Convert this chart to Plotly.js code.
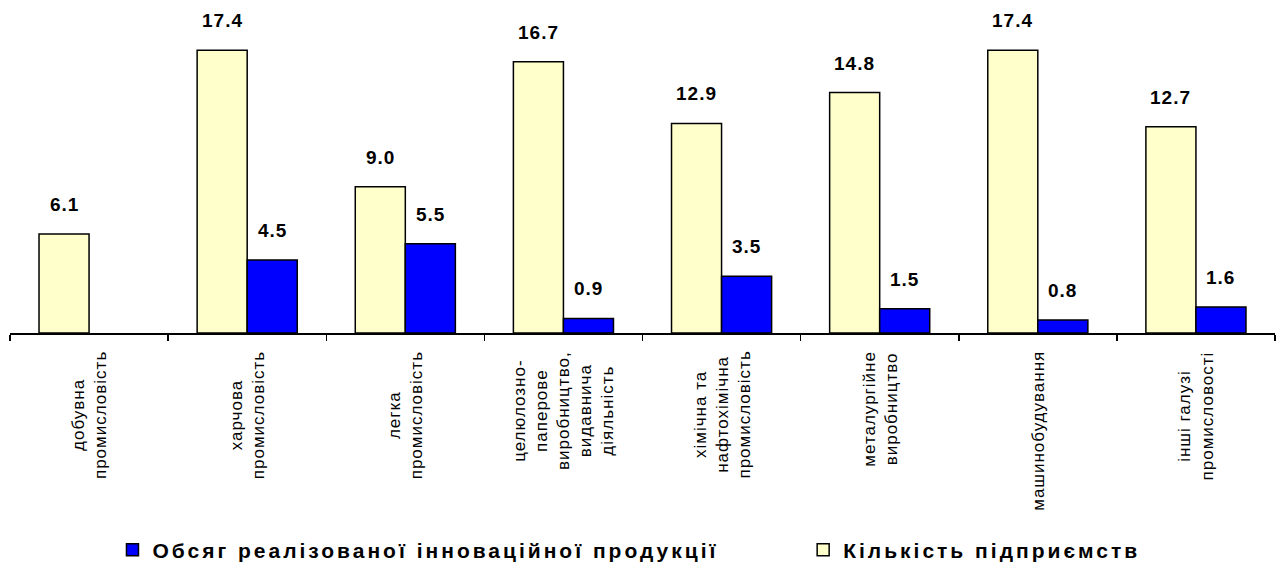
<!DOCTYPE html>
<html>
<head>
<meta charset="utf-8">
<script src="https://cdn.plot.ly/plotly-3.0.1.min.js"></script>
<style>
  html, body { margin: 0; padding: 0; background: #fff; }
  #chart { width: 1276px; height: 567px; }
  .annotation-text { letter-spacing: 1px; }
</style>
</head>
<body>
<div id="chart"></div>
<script>
// ---- data ----
const categories = [
  "добувна<br>промисловість",
  "харчова<br>промисловість",
  "легка<br>промисловість",
  "целюлозно-<br>паперове<br>виробництво,<br>видавнича<br>діяльність",
  "хімічна та<br>нафтохімічна<br>промисловість",
  "металургійне<br>виробництво",
  "машинобудування",
  "інші галузі<br>промисловості"
];
const enterprisesName = "Кількість підприємств";
const enterprises = [6.1, 17.4, 9.0, 16.7, 12.9, 14.8, 17.4, 12.7];
const salesName = "Обсяг реалізованої інноваційної продукції";
const sales = [null, 4.5, 5.5, 0.9, 3.5, 1.5, 0.8, 1.6];

// ---- style ----
const FONT = "Liberation Sans, Arial, sans-serif";
const yellow = "#FFFFCC";
const blue = "#0000FF";
const spaced = (s) => '<span style="letter-spacing:3px">' + s + '</span>';

const traces = [
  {
    type: "bar", name: spaced(enterprisesName), x: categories, y: enterprises,
    marker: { color: yellow, line: { color: "#000", width: 1.5 } },
    legend: "legend2", hoverinfo: "none"
  },
  {
    type: "bar", name: spaced(salesName), x: categories, y: sales,
    marker: { color: blue, line: { color: "#000", width: 1.5 } },
    legend: "legend", hoverinfo: "none"
  }
];

const annotations = [];
// value labels
const series = [[enterprises, -25], [sales, 25]];
series.forEach(([vals, dx]) => {
  vals.forEach((v, i) => {
    if (v === null) return;
    annotations.push({
      x: categories[i], y: v, xref: "x", yref: "y",
      text: v.toFixed(1), showarrow: false,
      xanchor: "center", yanchor: "bottom", xshift: dx, yshift: 17,
      font: { family: FONT, size: 19, color: "#000", weight: "bold" }
    });
  });
});
// category labels (rotated, centered lines)
categories.forEach((c) => {
  annotations.push({
    x: c, y: 0, xref: "x", yref: "paper",
    text: c, showarrow: false, textangle: -90, align: "center",
    xanchor: "center", yanchor: "top", yshift: -16,
    font: { family: FONT, size: 17, color: "#000" }
  });
});

const layout = {
  width: 1276, height: 567,
  margin: { l: 10, r: 1, t: 8, b: 234, autoexpand: false },
  paper_bgcolor: "#fff", plot_bgcolor: "#fff",
  barmode: "group", bargap: 0.367, bargroupgap: 0,
  showlegend: true,
  legend: {
    orientation: "h", x: 0.081, xanchor: "left", y: -0.668, yanchor: "middle",
    font: { family: FONT, size: 21, color: "#000", weight: "bold" },
    bgcolor: "rgba(0,0,0,0)"
  },
  legend2: {
    orientation: "h", x: 0.627, xanchor: "left", y: -0.668, yanchor: "middle",
    font: { family: FONT, size: 21, color: "#000", weight: "bold" },
    bgcolor: "rgba(0,0,0,0)"
  },
  xaxis: {
    type: "category", showticklabels: false,
    showline: true, linecolor: "#000", linewidth: 1.5,
    ticks: "outside", tickson: "boundaries", ticklen: 6, tickcolor: "#000", tickwidth: 1.5,
    showgrid: false, zeroline: false, fixedrange: true
  },
  yaxis: {
    range: [0, 20], visible: false, showgrid: false, zeroline: false, fixedrange: true
  },
  annotations: annotations,
  font: { family: FONT, color: "#000" }
};

Plotly.newPlot("chart", traces, layout, { displayModeBar: false, staticPlot: true });
</script>
</body>
</html>
